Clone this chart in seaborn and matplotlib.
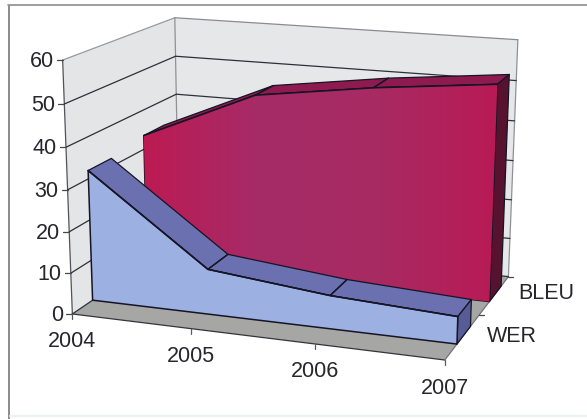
import numpy as np
import pandas as pd
import seaborn as sns
import matplotlib.pyplot as plt
from matplotlib.colors import LinearSegmentedColormap
from matplotlib.patches import Polygon

years = ['2004', '2005', '2006', '2007']
series_names = ['WER', 'BLEU']
wer_values = [32.0, 11.0, 8.0, 6.5]
bleu_values = [33.5, 46.0, 50.0, 53.0]
y_ticks = [0, 10, 20, 30, 40, 50, 60]

# depth range of each ribbon inside the box (0 = front, 1 = back)
wer_depth = (0.17, 0.37)
bleu_depth = (0.67, 0.87)

sns.set_theme(style='white')
plt.rcParams['font.family'] = ['Liberation Sans', 'DejaVu Sans']

# box corners (year pos, value, depth) and where they land in the picture
box = np.array([(0, 0, 0), (0, 60, 0), (3, 0, 0), (3, 60, 0),
                (0, 0, 1), (0, 60, 1), (3, 0, 1), (3, 60, 1),
                (1, 0, 0), (2, 0, 0)], dtype=float)
pix = np.array([(73, 312), (63, 57), (448, 360), (453, 95),
                (180, 246), (175, 18), (508, 274), (517, 37),
                (188, 327), (313, 345)], dtype=float)

rows, rhs = [], []
for (x, y, z), (u, v) in zip(box, pix):
    rows.append([x, y, z, 1, 0, 0, 0, 0, -u * x, -u * y, -u * z])
    rows.append([0, 0, 0, 0, x, y, z, 1, -v * x, -v * y, -v * z])
    rhs += [u, v]
cam = np.linalg.lstsq(np.array(rows), np.array(rhs), rcond=None)[0]
cam = np.append(cam, 1.0).reshape(3, 4)


def proj(t, val, d):
    w = cam @ np.array([t, val, d, 1.0])
    return w[:2] / w[2]


fig = plt.figure(figsize=(5.87, 4.19), dpi=100)
ax = fig.add_axes([0, 0, 1, 1])
ax.set_xlim(0, 587)
ax.set_ylim(419, 0)
ax.axis('off')


def face(pts, color, z, lw=0.0, ec='#151525'):
    p = Polygon(pts, closed=True, fc=color, ec=ec, lw=lw, zorder=z, joinstyle='round')
    ax.add_patch(p)
    return p


def seg(a, b, color='#3a3f48', lw=0.9, z=2):
    ax.plot([a[0], b[0]], [a[1], b[1]], color=color, lw=lw, zorder=z, solid_capstyle='round')


# walls and floor
face([proj(0, 0, 0), proj(0, 60, 0), proj(0, 60, 1), proj(0, 0, 1)], '#e3e5e7', 1)
face([proj(0, 0, 1), proj(0, 60, 1), proj(3, 60, 1), proj(3, 0, 1)], '#e6e7e9', 1)
face([proj(0, 0, 0), proj(3, 0, 0), proj(3, 0, 1), proj(0, 0, 1)], '#a6a6a4', 1)

seg(proj(0, 60, 0), proj(0, 60, 1), '#9a9a9c')
seg(proj(0, 60, 1), proj(3, 60, 1), '#8d8a92')
seg(proj(3, 60, 1), proj(3, 0, 1), '#8f9196')
seg(proj(0, 60, 1), proj(0, 0, 1), '#8f9196')
seg(proj(0, 0, 0), proj(0, 60, 0), '#50545a')
seg(proj(0, 0, 0), proj(3, 0, 0), '#34343c')
seg(proj(3, 0, 0), proj(3, 0, 1), '#70727a')

for val in y_ticks[:-1]:
    seg(proj(0, val, 0), proj(0, val, 1), '#2c3038')
    seg(proj(0, val, 1), proj(3, val, 1), '#2c3038')
for val in y_ticks:
    a = proj(0, val, 0)
    seg(a, a + np.array([-6, 0]), '#44484e')
    ax.text(a[0] - 9, a[1] + 1.5, str(val), ha='right', va='center', fontsize=15.5, color='#26262c')

# year ticks and labels
for i, year in enumerate(years):
    a = proj(i, 0, 0)
    seg(a, a + np.array([0, 5]), '#5a5a62')
    ax.text(a[0], a[1] + 28, year, ha='center', va='center', fontsize=15.5, color='#26262c')

# depth ticks and labels
for d in [0.5, 1.0]:
    a = proj(3, 0, d)
    seg(a, a + np.array([5, 0]), '#44484e')
ax.text(518, 293, series_names[1], ha='left', va='center', fontsize=15.5, color='#26262c')
ax.text(487, 336, series_names[0], ha='left', va='center', fontsize=15.5, color='#26262c')


def ribbon(values, depth, front, top, side, z):
    d0, d1 = depth
    n = len(values)
    fr = [proj(i, values[i], d0) for i in range(n)]
    bk = [proj(i, values[i], d1) for i in range(n)]
    base = [proj(n - 1, 0, d0), proj(0, 0, d0)]
    for i in range(n - 1):
        face([fr[i], fr[i + 1], bk[i + 1], bk[i]], top, z, lw=0.9)
    face([fr[-1], bk[-1], proj(n - 1, 0, d1), base[0]], side, z, lw=0.9)
    poly = face(fr + base, front, z + 0.1, lw=1.1)
    # seam between segments on the top face
    for i in range(1, n - 1):
        seg(fr[i], bk[i], '#151525', 0.9, z + 0.2)
    return poly, fr


# BLEU is behind, WER in front
bleu_poly, bleu_front = ribbon(bleu_values, bleu_depth, '#b01c55', '#8f1a4f', '#56122f', 4)
wer_poly, wer_front = ribbon(wer_values, wer_depth, '#9cb0e2', '#6a70b0', '#585c96', 6)

# slight purple cast through the middle of the red front
cmap = LinearSegmentedColormap.from_list('red_face', ['#bd1a52', '#a52c68', '#a82a62', '#b91a55'])
grad = np.linspace(0, 1, 200).reshape(1, -1)
im = ax.imshow(grad, extent=(140, 500, 310, 80), cmap=cmap, aspect='auto', zorder=4.15)
im.set_clip_path(bleu_poly)
ax.set_xlim(0, 587)
ax.set_ylim(419, 0)

# outline along the top of each ribbon front
edges = []
for name, pts in zip(series_names, [wer_front, bleu_front]):
    for p in pts:
        edges.append({'series': name, 'x': p[0], 'y': p[1]})
edges = pd.DataFrame(edges)
for name, z in [('BLEU', 4.3), ('WER', 6.3)]:
    sns.lineplot(data=edges[edges['series'] == name], x='x', y='y', sort=False, estimator=None,
                 color='#151525', lw=1.1, ax=ax, zorder=z, legend=False)
ax.set_xlabel('')
ax.set_ylabel('')

# frame of the scanned page
ax.plot([8.5, 8.5], [6, 419], color='#8a8a8e', lw=1.4, zorder=1)
ax.plot([8, 587], [5.5, 5.5], color='#8f8a90', lw=1.2, zorder=1)
ax.plot([10, 587], [416, 416], color='#e8f2ee', lw=1.5, zorder=1)

fig.savefig('out.png', dpi=100)
